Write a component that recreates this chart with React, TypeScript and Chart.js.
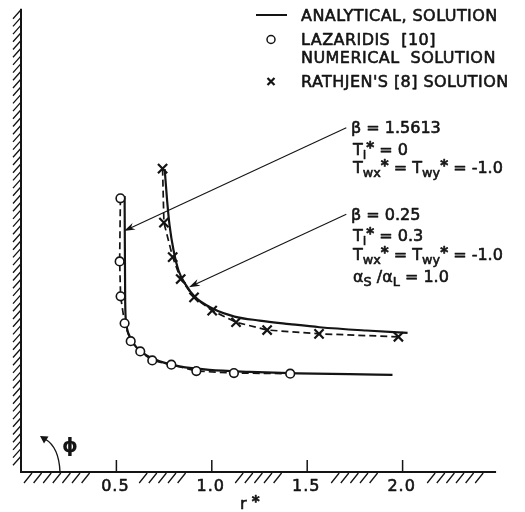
import { useEffect, useRef } from 'react';
import { Chart, registerables } from 'chart.js';

Chart.register(...registerables);

// ---- data (x = r*, y = phi in arbitrary units measured from the r* axis) ----
const analyticalAX = [0.543, 0.546, 0.551, 0.57, 0.606, 0.658, 0.727, 0.831, 0.988, 1.198, 1.45, 1.72, 1.947];
const analyticalAY = [277, 172, 150, 136, 125, 117, 111, 106, 102.5, 100.5, 99, 98.2, 97.5];

const analyticalBX = [0.753, 0.766, 0.779, 0.8, 0.826, 0.863, 0.91, 1.004, 1.119, 1.25, 1.407, 1.565, 1.81, 2.026];
const analyticalBY = [304, 272, 247, 222, 202, 188, 176, 164, 156, 152, 148.5, 145.3, 142, 139.7];

const lazaridisX = [0.521, 0.517, 0.522, 0.543, 0.575, 0.625, 0.688, 0.788, 0.919, 1.116, 1.411];
const lazaridisY = [274.7, 211.3, 176.3, 149.3, 131.3, 121, 112, 107.7, 101.3, 99.3, 98.7];

const rathjenX = [0.742, 0.749, 0.795, 0.837, 0.907, 1.002, 1.127, 1.29, 1.562, 1.978];
const rathjenY = [304.5, 250.3, 215.7, 193.7, 175.3, 162, 150.3, 142.5, 138.7, 135.7];

const xTickValues = [0.5, 1.0, 1.5, 2.0];
const xTickLabels = ['0.5', '1.0', '1.5', '2.0'];

const legendLabels = ['ANALYTICAL, SOLUTION', 'LAZARIDIS  [10]', 'NUMERICAL  SOLUTION', "RATHJEN'S [8] SOLUTION"];

const INK = '#141414';
const FONT = '"DejaVu Sans", sans-serif';

type Part = [string, '' | 'sub' | 'sup'];

function pts(xs: number[], ys: number[]) {
  return xs.map((v, i) => ({ x: v, y: ys[i] }));
}

function inkText(ctx: CanvasRenderingContext2D, t: string, x: number, y: number) {
  ctx.fillText(t, x, y);
  ctx.save();
  ctx.lineWidth = 0.6;
  ctx.lineJoin = 'round';
  ctx.strokeText(t, x, y);
  ctx.restore();
}

function drawRich(ctx: CanvasRenderingContext2D, x: number, yMid: number, parts: Part[], size: number) {
  let cx = x;
  const base = yMid + size * 0.36;
  for (const [t, mode] of parts) {
    let s = size;
    let b = base;
    if (mode === 'sub') { s = size * 0.8; b = base + size * 0.28; }
    if (mode === 'sup') { s = size * 0.95; b = base - size * 0.14; }
    ctx.font = `${mode === 'sup' ? 'bold ' : ''}${s}px ${FONT}`;
    inkText(ctx, t, cx, b);
    cx += ctx.measureText(t).width;
  }
}

function drawArrow(ctx: CanvasRenderingContext2D, x1: number, y1: number, x2: number, y2: number) {
  const ang = Math.atan2(y2 - y1, x2 - x1);
  const L = 11, W = 3.6;
  ctx.lineWidth = 1.1;
  ctx.beginPath();
  ctx.moveTo(x1, y1);
  ctx.lineTo(x2 - Math.cos(ang) * L * 0.7, y2 - Math.sin(ang) * L * 0.7);
  ctx.stroke();
  ctx.beginPath();
  ctx.moveTo(x2, y2);
  ctx.lineTo(x2 - Math.cos(ang) * L - Math.sin(ang) * W, y2 - Math.sin(ang) * L + Math.cos(ang) * W);
  ctx.lineTo(x2 - Math.cos(ang) * L * 0.7, y2 - Math.sin(ang) * L * 0.7);
  ctx.lineTo(x2 - Math.cos(ang) * L + Math.sin(ang) * W, y2 - Math.sin(ang) * L - Math.cos(ang) * W);
  ctx.closePath();
  ctx.fill();
}

const overlay = {
  id: 'overlay',
  afterDraw(chart: any) {
    const { ctx, chartArea: a, scales } = chart;
    const xs = scales.x;
    const ys = scales.y;
    ctx.save();
    ctx.strokeStyle = INK;
    ctx.fillStyle = INK;
    ctx.lineCap = 'butt';

    // axes
    ctx.lineWidth = 2;
    ctx.beginPath();
    ctx.moveTo(a.left, a.top);
    ctx.lineTo(a.left, a.bottom);
    ctx.lineTo(xs.getPixelForValue(2.49), a.bottom);
    ctx.stroke();

    // left hatching
    ctx.lineWidth = 1.3;
    ctx.beginPath();
    for (let py = a.top + 1; py < a.bottom - 12; py += 7.7) {
      ctx.moveTo(a.left, py);
      ctx.lineTo(a.left - 8, py + 9);
    }
    ctx.stroke();

    // bottom hatching, interrupted by tick labels
    const centers = xTickValues.map((v) => xs.getPixelForValue(v) - 1);
    const hatchEnd = xs.getPixelForValue(2.45);
    ctx.beginPath();
    for (let px = a.left + 11; px < hatchEnd; px += 9.6) {
      const l = px - 8, r = px;
      if (centers.some((c) => r > c - 18 && l < c + 18)) continue;
      ctx.moveTo(px, a.bottom + 1);
      ctx.lineTo(px - 8, a.bottom + 11);
    }
    ctx.stroke();

    // tick marks (inside) + labels
    ctx.lineWidth = 1.5;
    ctx.beginPath();
    xTickValues.forEach((v) => {
      const px = xs.getPixelForValue(v);
      ctx.moveTo(px, a.bottom);
      ctx.lineTo(px, a.bottom - 12);
    });
    ctx.stroke();
    ctx.font = `16px ${FONT}`;
    ctx.textAlign = 'center';
    ctx.textBaseline = 'middle';
    (ctx as any).letterSpacing = '1px';
    xTickValues.forEach((v, i) => {
      inkText(ctx, xTickLabels[i], xs.getPixelForValue(v) - 1, a.bottom + 15);
    });
    (ctx as any).letterSpacing = '0px';

    // axis title r*
    ctx.textAlign = 'left';
    ctx.textBaseline = 'alphabetic';
    drawRich(ctx, 240, 503, [['r', ''], [' *', 'sup']], 16);

    // phi with curved arrow
    ctx.lineWidth = 1.4;
    ctx.beginPath();
    ctx.moveTo(60, a.bottom);
    ctx.quadraticCurveTo(59, 447, 45, 439);
    ctx.stroke();
    ctx.beginPath();
    ctx.moveTo(40, 436);
    ctx.lineTo(48.5, 436.5);
    ctx.lineTo(44, 443.5);
    ctx.closePath();
    ctx.fill();
    ctx.font = `bold 20px ${FONT}`;
    ctx.textAlign = 'center';
    ctx.textBaseline = 'middle';
    ctx.fillText('ϕ', 70, 447);

    // legend
    ctx.textAlign = 'left';
    ctx.textBaseline = 'alphabetic';
    ctx.lineWidth = 2;
    ctx.beginPath();
    ctx.moveTo(256, 15);
    ctx.lineTo(287, 15);
    ctx.stroke();
    ctx.lineWidth = 1.5;
    ctx.beginPath();
    ctx.arc(271, 39.5, 4, 0, Math.PI * 2);
    ctx.stroke();
    ctx.lineWidth = 2.2;
    ctx.beginPath();
    ctx.moveTo(267.5, 78); ctx.lineTo(274.5, 85);
    ctx.moveTo(274.5, 78); ctx.lineTo(267.5, 85);
    ctx.stroke();
    (ctx as any).letterSpacing = '0.45px';
    const legendY = [15, 39.5, 57.5, 81.7];
    legendLabels.forEach((t, i) => drawRich(ctx, 301, legendY[i], [[t, '']], 16));
    (ctx as any).letterSpacing = '0px';

    // annotation arrows (tips on the curves, in data units)
    drawArrow(ctx, xs.getPixelForValue(1.705), ys.getPixelForValue(345.5), xs.getPixelForValue(0.54), ys.getPixelForValue(242));
    drawArrow(ctx, xs.getPixelForValue(1.705), ys.getPixelForValue(258.7), xs.getPixelForValue(0.88), ys.getPixelForValue(185.5));

    // annotation blocks
    const s = 16;
    drawRich(ctx, 351, 127, [['β = 1.5613', '']], s);
    drawRich(ctx, 353, 149, [['T', ''], ['i', 'sub'], ['*', 'sup'], [' = 0', '']], s);
    drawRich(ctx, 353, 167, [['T', ''], ['wx', 'sub'], ['*', 'sup'], [' = T', ''], ['wy', 'sub'], ['*', 'sup'], [' = -1.0', '']], s);

    drawRich(ctx, 351, 214, [['β = 0.25', '']], s);
    drawRich(ctx, 353, 235, [['T', ''], ['i', 'sub'], ['*', 'sup'], [' = 0.3', '']], s);
    drawRich(ctx, 353, 254, [['T', ''], ['wx', 'sub'], ['*', 'sup'], [' = T', ''], ['wy', 'sub'], ['*', 'sup'], [' = -1.0', '']], s);
    drawRich(ctx, 353, 276, [['α', ''], ['S', 'sub'], [' /α', ''], ['L', 'sub'], [' = 1.0', '']], s);

    ctx.restore();
  },
};

export default function App() {
  const ref = useRef<HTMLCanvasElement>(null);
  useEffect(() => {
    const chart = new Chart(ref.current as HTMLCanvasElement, {
      type: 'scatter',
      data: {
        datasets: [
          {
            label: 'Analytical β = 1.5613',
            data: pts(analyticalAX, analyticalAY),
            showLine: true,
            borderColor: INK,
            borderWidth: 2.2,
            pointRadius: 0,
            cubicInterpolationMode: 'monotone',
            order: 2,
          },
          {
            label: 'Analytical β = 0.25',
            data: pts(analyticalBX, analyticalBY),
            showLine: true,
            borderColor: INK,
            borderWidth: 2.2,
            pointRadius: 0,
            cubicInterpolationMode: 'monotone',
            order: 2,
          },
          {
            label: 'Lazaridis [10] numerical solution',
            data: pts(lazaridisX, lazaridisY),
            showLine: true,
            borderColor: INK,
            borderWidth: 1.7,
            borderDash: [7, 4],
            pointStyle: 'circle',
            pointRadius: 4.3,
            pointBorderWidth: 1.6,
            pointBorderColor: INK,
            pointBackgroundColor: '#ffffff',
            order: 0,
          },
          {
            label: "Rathjen's [8] solution",
            data: pts(rathjenX, rathjenY),
            showLine: true,
            borderColor: INK,
            borderWidth: 1.7,
            borderDash: [7, 4],
            pointStyle: 'crossRot',
            pointRadius: 6.5,
            pointBorderWidth: 2.2,
            pointBorderColor: INK,
            order: 1,
          },
        ] as any,
      },
      options: {
        responsive: false,
        animation: false,
        events: [],
        layout: { padding: { left: 21, top: 7, right: 27, bottom: 40 } },
        scales: {
          x: { type: 'linear', min: 0, max: 2.5, display: false },
          y: { type: 'linear', min: 0, max: 465, display: false },
        },
        plugins: { legend: { display: false }, tooltip: { enabled: false } },
      },
      plugins: [overlay],
    });
    return () => chart.destroy();
  }, []);
  return (
    <div style={{ position: 'fixed', left: 0, top: 0, width: 525, height: 512, background: '#ffffff' }}>
      <canvas ref={ref} width={525} height={512} style={{ display: 'block' }} />
    </div>
  );
}
